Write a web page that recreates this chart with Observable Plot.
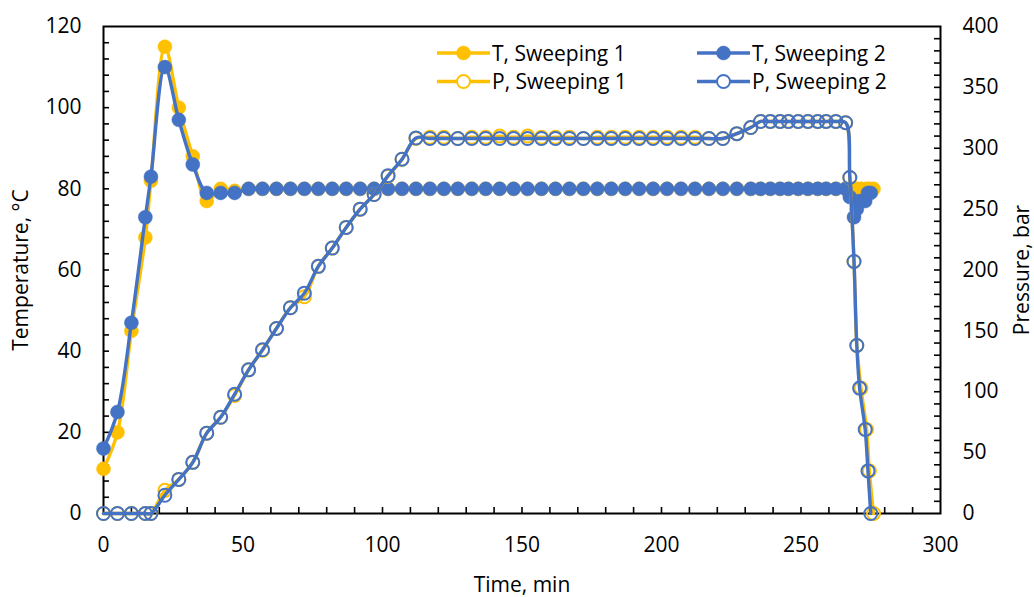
<!DOCTYPE html>
<html>
<head>
<meta charset="utf-8">
<script src="https://cdn.jsdelivr.net/npm/d3@7"></script>
<script src="https://cdn.jsdelivr.net/npm/@observablehq/plot@0.6"></script>
<style>
html, body { margin: 0; padding: 0; background: #fff; }
#chart { position: relative; width: 1034px; height: 597px; font-family: "Open Sans", sans-serif; }
#legend { position: absolute; left: 0; top: 0; pointer-events: none; }
</style>
</head>
<body>
<div id="chart"></div>
<script>
// ---------- DATA ----------
const seriesNames = ["T, Sweeping 1", "T, Sweeping 2", "P, Sweeping 1", "P, Sweeping 2"];

// Sweeping 1 (yellow)
const time1 = [0,5,10,15,17,22,27,32,37,42,47,52,57,62,67,72,77,82,87,92,97,102,107,112,117,122,127,132,137,142,147,152,157,162,167,172,177,182,187,192,197,202,207,212,217,222,227,232,235.5,239,242.5,245.5,249,252.5,256,259,262.5,266,267.5,269,270,271.5,273.5,274.5,276];
const temp1 = [11,20,45,68,82,115,100,88,77,80,79.5,
  80,80,80,80,80,80,80,80,80,80,80,80,80,80,80,80,80,80,80,80,80,80,80,80,80,80,80,80,80,80,80,80,80,80,80,80,80,80,80,80,80,80,80,80,80,80,80,
  80,80,80,80,80,80,80];
const pres1 = [0,0,0,0,0,19,28,42,66,79,97,118,134,152,169,178,203,218,235,250,262,277,291,308,
  309,309,308,309,309,310,309,310,309,309,309,308,309,309,309,309,309,309,309,309,308,308,
  312,317,322,322,322,322,322,322,322,322,322,321,276,207,138,103,69,35,0];

// Sweeping 2 (blue)
const time2 = [0,5,10,15,17,22,27,32,37,42,47,52,57,62,67,72,77,82,87,92,97,102,107,112,117,122,127,132,137,142,147,152,157,162,167,172,177,182,187,192,197,202,207,212,217,222,227,232,235.5,239,242.5,245.5,249,252.5,256,259,262.5,266,267.5,269,270,271,273,274,275];
const temp2 = [16,25,47,73,83,110,97,86,79,79,79,
  80,80,80,80,80,80,80,80,80,80,80,80,80,80,80,80,80,80,80,80,80,80,80,80,80,80,80,80,80,80,80,80,80,80,80,80,80,80,80,80,80,80,80,80,80,80,80,
  78,73,75,77,77,79,79];
const pres2 = [0,0,0,0,0,15,28,42,66,79,98,118,134.5,152,169,181,203,218,235,250,262,277.5,291,308.5,
  308,308,308,308,308,308,308,308,308,308,308,308,308,308,308,308,308,308,308,308,308,308,
  312,317,322,322,322,322,322,322,322,322,322,321,276,207,138,103,69,35,0];

// Axis ticks
const xTicks = [0,50,100,150,200,250,300];
const xMinor = [10,20,30,40,50,60,70,80,90,100,110,120,130,140,150,160,170,180,190,200,210,220,230,240,250,260,270,280,290];
const tTicks = [0,20,40,60,80,100,120];
const tMinor = [4,8,12,16,20,24,28,32,36,40,44,48,52,56,60,64,68,72,76,80,84,88,92,96,100,104,108,112,116];
const pTicks = [0,50,100,150,200,250,300,350,400];
const pMinor = [10,20,30,40,50,60,70,80,90,100,110,120,130,140,150,160,170,180,190,200,210,220,230,240,250,260,270,280,290,300,310,320,330,340,350,360,370,380,390];

// ---------- LAYOUT ----------
const W = 1034, H = 597;
const mL = 103, mR = 94, mT = 26, mB = 84;
const innerW = W - mL - mR, innerH = H - mT - mB;
const TMAX = 120, PMAX = 400, K = TMAX / PMAX;

const YELLOW = "#FFC000", BLUE = "#4472C4";

const s1 = time1.map((t, i) => ({t, T: temp1[i], P: pres1[i]}));
const s2 = time2.map((t, i) => ({t, T: temp2[i], P: pres2[i]}));

const curve = "catmull-rom";
const lineW = 3.4, rFill = 7, rOpen = 6.5;

const plot = Plot.plot({
  width: W, height: H,
  marginLeft: mL, marginRight: mR, marginTop: mT, marginBottom: mB,
  style: {fontFamily: "'Open Sans', sans-serif", fontSize: "21px", color: "#000", background: "#fff", overflow: "visible"},
  x: {domain: [0, 300]},
  y: {domain: [0, TMAX]},
  marks: [
    // inward tick marks
    Plot.ruleX(xMinor, {x: d => d, stroke: "#000", strokeWidth: 1.6, insetTop: innerH - 6}),
    Plot.ruleY(tMinor, {y: d => d, stroke: "#000", strokeWidth: 1.6, insetRight: innerW - 6}),
    Plot.ruleY(pMinor, {y: d => d * K, stroke: "#000", strokeWidth: 1.6, insetLeft: innerW - 6}),
    Plot.frame({stroke: "#000", strokeWidth: 2}),
    // axes
    Plot.axisX({ticks: xTicks, tickSize: 0, tickPadding: 24, tickFormat: d => d,
      label: "Time, min", labelAnchor: "center", labelOffset: 78, labelArrow: "none"}),
    Plot.axisY({anchor: "left", ticks: tTicks, tickSize: 0, tickPadding: 22, tickFormat: d => d,
      label: "Temperature, °C", labelAnchor: "center", labelOffset: 90, labelArrow: "none"}),
    Plot.axisY({anchor: "right", ticks: pTicks.map(p => p * K), tickSize: 0, tickPadding: 22,
      tickFormat: v => Math.round(v / K),
      label: "Pressure, bar", labelAnchor: "center", labelOffset: 88, labelArrow: "none"}),
    // T series
    Plot.line(s1, {x: "t", y: "T", stroke: YELLOW, strokeWidth: lineW, curve}),
    Plot.dot(s1, {x: "t", y: "T", fill: YELLOW, stroke: YELLOW, strokeWidth: 0.5, r: rFill}),
    Plot.line(s2, {x: "t", y: "T", stroke: BLUE, strokeWidth: lineW, curve}),
    Plot.dot(s2, {x: "t", y: "T", fill: BLUE, stroke: BLUE, strokeWidth: 0.5, r: rFill}),
    // P series (secondary axis)
    Plot.line(s1, {x: "t", y: d => d.P * K, stroke: YELLOW, strokeWidth: lineW, curve}),
    Plot.dot(s1, {x: "t", y: d => d.P * K, fill: "none", stroke: YELLOW, strokeWidth: 2, r: rOpen}),
    Plot.line(s2, {x: "t", y: d => d.P * K, stroke: BLUE, strokeWidth: lineW, curve}),
    Plot.dot(s2, {x: "t", y: d => d.P * K, fill: "none", stroke: BLUE, strokeWidth: 2, r: rOpen})
  ]
});

const chart = document.getElementById("chart");
chart.appendChild(plot);

// ---------- LEGEND (overlay) ----------
const legendItems = [
  {name: seriesNames[0], color: YELLOW, filled: true,  col: 0, row: 0},
  {name: seriesNames[1], color: BLUE,   filled: true,  col: 1, row: 0},
  {name: seriesNames[2], color: YELLOW, filled: false, col: 0, row: 1},
  {name: seriesNames[3], color: BLUE,   filled: false, col: 1, row: 1}
];
const colX = [437, 697], rowY = [53, 81.5], swW = 53;
const ns = "http://www.w3.org/2000/svg";
const lg = document.createElementNS(ns, "svg");
lg.setAttribute("id", "legend");
lg.setAttribute("width", W);
lg.setAttribute("height", H);
for (const it of legendItems) {
  const x0 = colX[it.col], y0 = rowY[it.row];
  const ln = document.createElementNS(ns, "line");
  ln.setAttribute("x1", x0); ln.setAttribute("x2", x0 + swW);
  ln.setAttribute("y1", y0); ln.setAttribute("y2", y0);
  ln.setAttribute("stroke", it.color); ln.setAttribute("stroke-width", lineW);
  lg.appendChild(ln);
  const c = document.createElementNS(ns, "circle");
  c.setAttribute("cx", x0 + swW / 2); c.setAttribute("cy", y0);
  c.setAttribute("r", it.filled ? rFill : rOpen);
  c.setAttribute("fill", it.filled ? it.color : "#fff");
  c.setAttribute("stroke", it.color); c.setAttribute("stroke-width", it.filled ? 0.5 : 2);
  lg.appendChild(c);
  const tx = document.createElementNS(ns, "text");
  tx.setAttribute("x", x0 + swW + 2); tx.setAttribute("y", y0 + 7.5);
  tx.setAttribute("font-family", "'Open Sans', sans-serif");
  tx.setAttribute("font-size", "21px");
  tx.setAttribute("fill", "#000");
  tx.textContent = it.name;
  lg.appendChild(tx);
}
chart.appendChild(lg);
</script>
</body>
</html>
